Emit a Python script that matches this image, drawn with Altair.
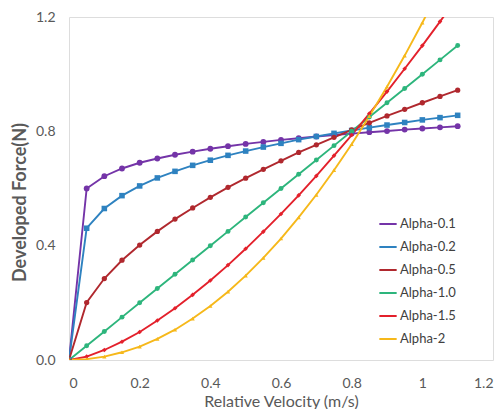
import altair as alt
import pandas as pd

velocity = [0, 0.05, 0.1, 0.15, 0.2, 0.25, 0.3, 0.35, 0.4, 0.45, 0.5, 0.55,
            0.6, 0.65, 0.7, 0.75, 0.8, 0.85, 0.9, 0.95, 1.0, 1.05, 1.1]
alpha_01 = [0, 0.600, 0.643, 0.670, 0.690, 0.705, 0.718, 0.729, 0.739, 0.748, 0.756, 0.763,
            0.770, 0.776, 0.782, 0.787, 0.792, 0.797, 0.801, 0.806, 0.810, 0.814, 0.818]
alpha_02 = [0, 0.461, 0.530, 0.575, 0.609, 0.637, 0.660, 0.681, 0.699, 0.716, 0.731, 0.745,
            0.758, 0.771, 0.782, 0.793, 0.803, 0.813, 0.822, 0.831, 0.840, 0.848, 0.856]
alpha_05 = [0, 0.201, 0.285, 0.349, 0.402, 0.450, 0.493, 0.532, 0.569, 0.604, 0.636, 0.667,
            0.697, 0.726, 0.753, 0.779, 0.805, 0.830, 0.854, 0.877, 0.900, 0.922, 0.944]
alpha_10 = [0, 0.05, 0.10, 0.15, 0.20, 0.25, 0.30, 0.35, 0.40, 0.45, 0.50, 0.55,
            0.60, 0.65, 0.70, 0.75, 0.80, 0.85, 0.90, 0.95, 1.00, 1.05, 1.10]
alpha_15 = [0, 0.012, 0.035, 0.064, 0.098, 0.138, 0.181, 0.228, 0.278, 0.332, 0.389, 0.449,
            0.511, 0.576, 0.644, 0.715, 0.787, 0.862, 0.939, 1.019, 1.100, 1.184, 1.269]
alpha_20 = [0, 0.003, 0.012, 0.027, 0.047, 0.074, 0.106, 0.145, 0.189, 0.239, 0.295, 0.357,
            0.425, 0.499, 0.578, 0.664, 0.755, 0.853, 0.956, 1.065, 1.180, 1.301, 1.428]

series_names = ["Alpha-0.1", "Alpha-0.2", "Alpha-0.5", "Alpha-1.0", "Alpha-1.5", "Alpha-2"]
series_values = [alpha_01, alpha_02, alpha_05, alpha_10, alpha_15, alpha_20]
series_colors = ["#7434A8", "#2E82C0", "#B0282E", "#2DB57C", "#E3202B", "#F6B81A"]
series_shapes = ["circle", "square", "circle", "circle", "diamond", "triangle-up"]
series_sizes = [34, 18, 10, 7, 26, 16]

x_ticks = [0, 0.2, 0.4, 0.6, 0.8, 1.0, 1.2]
y_ticks = [0, 0.4, 0.8, 1.2]

rows = []
for i, (name, vals) in enumerate(zip(series_names, series_values)):
    for v, f in zip(velocity, vals):
        rows.append({"series": name, "order": i, "v": v, "F": f})
df = pd.DataFrame(rows)

FONT = "Lato"
GRAY = "#595959"

x_enc = alt.X("v:Q", scale=alt.Scale(domain=[0, 1.2], nice=False, zero=False),
              axis=alt.Axis(values=x_ticks, format="~g", title="Relative Velocity (m/s)",
                            grid=False, ticks=False, domain=False, labelPadding=16,
                            labelFontSize=14, labelColor=GRAY, labelFont=FONT,
                            titleFont=FONT, titleFontSize=16, titleFontWeight="normal",
                            titleColor=GRAY, titleX=212, titleY=41,
                            titleBaseline="middle", titleAlign="center"))
y_enc = alt.Y("F:Q", scale=alt.Scale(domain=[0, 1.2], nice=False),
              axis=alt.Axis(values=y_ticks, format=".1f", title="Developed Force(N)",
                            grid=False, ticks=False, domain=False, labelPadding=14,
                            labelFontSize=14, labelColor=GRAY, labelFont=FONT,
                            titleFont=FONT, titleFontSize=18, titleFontWeight="bold",
                            titleColor=GRAY, titleX=-49, titleY=185, titleAngle=270,
                            titleBaseline="middle", titleAlign="center"))

lines = alt.Chart(df).mark_line(clip=True, strokeWidth=1.9).encode(
    x=x_enc, y=y_enc,
    color=alt.Color("series:N", scale=alt.Scale(domain=series_names, range=series_colors),
                    sort=series_names,
                    legend=alt.Legend(orient="none", legendX=309, legendY=197, title=None,
                                      symbolType="stroke", symbolSize=300, symbolStrokeWidth=2,
                                      labelFont=FONT, labelFontSize=13, labelColor="#404040",
                                      rowPadding=6, labelOffset=2, padding=0)),
    order="order:Q",
)

points = alt.Chart(df).mark_point(clip=True, filled=True, opacity=1).encode(
    x="v:Q", y="F:Q",
    color=alt.Color("series:N", scale=alt.Scale(domain=series_names, range=series_colors), legend=None),
    shape=alt.Shape("series:N", scale=alt.Scale(domain=series_names, range=series_shapes), legend=None),
    size=alt.Size("series:N", scale=alt.Scale(domain=series_names, range=series_sizes), legend=None),
)

chart = alt.layer(lines, points).resolve_scale(color="independent").resolve_legend(
    color="independent").properties(
    width=424, height=343,
    autosize=alt.AutoSizeParams(type="none"),
    padding={"left": 61, "top": 9, "right": 2, "bottom": 49},
).configure_view(stroke="#333333", strokeWidth=1.6).configure(background="white")

chart.save("out.html", embed_options={"renderer": "svg", "actions": False})
